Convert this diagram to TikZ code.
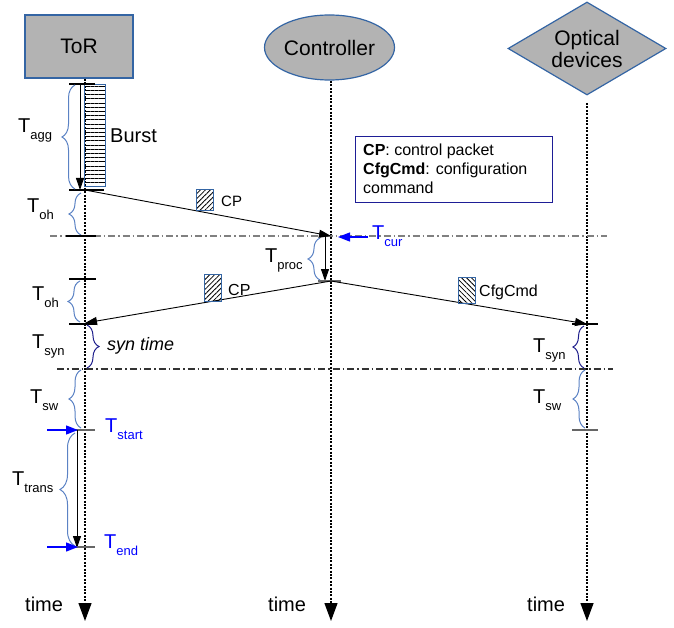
\documentclass[tikz,border=0pt]{standalone}
\usepackage{fontspec}
\setmainfont{Liberation Sans}
\usetikzlibrary{arrows.meta,shapes.geometric,decorations.pathreplacing,patterns.meta}

\definecolor{boxfill}{RGB}{179,179,179}
\definecolor{boxline}{RGB}{52,101,164}
\definecolor{bracecol}{RGB}{91,130,196}
\definecolor{darkbrace}{RGB}{30,30,140}
\definecolor{legline}{RGB}{30,30,150}
\definecolor{tblue}{RGB}{0,0,255}
\definecolor{tickgray}{gray}{0.4}

% T with a lowered subscript, as used for all the interval labels
\newcommand\Tlab[1]{T\raisebox{-7pt}{\fontsize{13}{13}\selectfont #1}}

\begin{document}
\begin{tikzpicture}[x=1pt,y=-1pt,
  actor/.style={draw=boxline, fill=boxfill, line width=1.2pt, inner sep=0pt,
                font=\fontsize{21}{25}\selectfont, align=center},
  lifeline/.style={line width=1.3pt, dash pattern=on 2pt off 1.4pt,
                   -{Triangle[length=18pt,width=13pt]}},
  msg/.style={line width=0.9pt, -{Triangle[length=12pt,width=8pt]}},
  tickline/.style={line width=1.1pt},
  graytick/.style={line width=1.1pt, draw=tickgray},
  bracel/.style={decorate, decoration={brace,amplitude=#1}, draw=bracecol, line width=1pt},
  braced/.style={decorate, decoration={brace,amplitude=#1}, draw=darkbrace, line width=1pt},
  marker/.style={draw=tblue, line width=1.3pt, -{Triangle[length=12pt,width=9pt]}},
  syncline/.style={line width=1.1pt, dash pattern=on 7pt off 3pt on 1.5pt off 3pt},
  pkt/.style={draw=boxline, line width=0.8pt, minimum width=17pt, minimum height=#1,
              inner sep=0pt, anchor=north west},
  lbl/.style={anchor=base west, inner sep=0pt, font=\fontsize{20}{24}\selectfont},
  msglbl/.style={anchor=base west, inner sep=0pt, font=\fontsize{16}{19}\selectfont}]

\useasboundingbox (0,0) rectangle (674,628);

% participants
\node[actor, rectangle, minimum width=108pt, minimum height=63pt] (tor) at (79,46.5) {ToR};
\node[actor, ellipse, minimum width=130pt, minimum height=65pt] (ctrl) at (329.5,47.5) {Controller};
\node[actor, diamond, aspect=1.7, minimum width=158pt, minimum height=93pt] (opt) at (587,48.5) {Optical\\[-3pt]devices};

% lifelines
\coordinate (torTop) at (85,79);   \coordinate (torBot) at (85,621);
\coordinate (ctrlTop) at (331,81); \coordinate (ctrlBot) at (331,621);
\coordinate (optTop) at (587,103); \coordinate (optBot) at (587,621);
\draw[lifeline] (torTop) -- (torBot);
\draw[lifeline] (ctrlTop) -- (ctrlBot);
\draw[lifeline] (optTop) -- (optBot);

% synchronisation levels
\coordinate (curL) at (50,236);  \coordinate (curR) at (607,236);
\coordinate (swL) at (57,369);   \coordinate (swR) at (613,369);
\draw[syncline, draw=gray] (curL) -- (curR);
\draw[syncline, draw=black!80] (swL) -- (swR);

% burst aggregation
\node[draw=boxline, line width=0.8pt, anchor=north west, minimum width=21pt, minimum height=102pt,
      inner sep=0pt, pattern={Lines[angle=0,distance=4.2pt,line width=0.8pt]}] (burst) at (84,84) {};
\node[lbl] (burstlbl) at (110,143) {Burst};
\coordinate (aggTop) at (80,84); \coordinate (aggBot) at (80,190);
\draw[msg] (aggTop) -- (aggBot);
\coordinate (aggT1) at (69,84);  \coordinate (aggT2) at (95,84);
\coordinate (aggB1) at (69,190); \coordinate (aggB2) at (104,190);
\draw[tickline] (aggT1) -- (aggT2);
\draw[tickline] (aggB1) -- (aggB2);
\coordinate (agbA) at (75,189); \coordinate (agbB) at (75,85);
\draw[bracel=13pt] (agbA) -- (agbB);
\node[lbl] (tagg) at (18,133) {\Tlab{agg}};

% control packet to the controller
\coordinate (cpFrom) at (85,190); \coordinate (cpTo) at (331,236);
\draw[msg] (cpFrom) -- (cpTo);
\node[pkt=21pt, pattern={Lines[angle=45,distance=3.5pt,line width=0.8pt]}] (cp1) at (196,189) {};
\node[msglbl, font=\fontsize{15}{18}\selectfont] (cp1lbl) at (221,207) {CP};

\coordinate (oh1A) at (81,235); \coordinate (oh1B) at (81,193);
\draw[bracel=12pt] (oh1A) -- (oh1B);
\node[lbl] (toh1) at (27,213) {\Tlab{oh}};
\coordinate (curT1) at (66,236); \coordinate (curT2) at (96,236);
\draw[tickline] (curT1) -- (curT2);

% current time marker
\coordinate (tcurA) at (368,237); \coordinate (tcurB) at (338,237);
\draw[marker] (tcurA) -- (tcurB);
\node[lbl, text=tblue] (tcur) at (372,240) {\Tlab{cur}};

% legend
\node[draw=legline, line width=1pt, anchor=north west, minimum width=197pt, minimum height=66pt,
      inner sep=0pt] (legend) at (355,136) {};
\node[anchor=north west, align=left, inner sep=0pt, font=\fontsize{16}{19}\selectfont] (legtxt) at (363,144)
  {\textbf{CP}: control packet\\\textbf{CfgCmd}: configuration\\command};

% processing at the controller
\coordinate (procTop) at (325,237); \coordinate (procBot) at (325,281);
\draw[msg] (procTop) -- (procBot);
\coordinate (procT1) at (318,281); \coordinate (procT2) at (341,281);
\draw[graytick] (procT1) -- (procT2);
\coordinate (prA) at (320,280); \coordinate (prB) at (320,238);
\draw[bracel=12pt] (prA) -- (prB);
\node[lbl] (tproc) at (265,262) {\Tlab{proc}};

% replies from the controller
\coordinate (repFrom) at (331,281);
\coordinate (cpBack) at (85,323);
\coordinate (cfgTo) at (587,324);
\draw[msg] (repFrom) -- (cpBack);
\draw[msg] (repFrom) -- (cfgTo);
\node[pkt=27pt, pattern={Lines[angle=45,distance=3.5pt,line width=0.8pt]}] (cp2) at (204,274) {};
\node[msglbl] (cp2lbl) at (228,295) {CP};
\node[pkt=26pt, pattern={Lines[angle=-45,distance=3.5pt,line width=0.8pt]}] (cfg) at (458,277) {};
\node[msglbl] (cfglbl) at (479,296) {CfgCmd};

% ToR side: overhead, sync, switching, transmission
\coordinate (oh2T1) at (69,279); \coordinate (oh2T2) at (96,279);
\coordinate (oh2B1) at (69,324); \coordinate (oh2B2) at (96,324);
\draw[tickline] (oh2T1) -- (oh2T2);
\draw[tickline] (oh2B1) -- (oh2B2);
\coordinate (oh2A) at (80,322); \coordinate (oh2B) at (80,281);
\draw[bracel=12pt] (oh2A) -- (oh2B);
\node[lbl] (toh2) at (32,300) {\Tlab{oh}};

\coordinate (synA) at (87,325); \coordinate (synB) at (87,368);
\draw[braced=12pt] (synA) -- (synB);
\node[lbl, font=\fontsize{18}{22}\selectfont\itshape] (syntime) at (107,350) {syn time};
\node[lbl] (tsyn) at (32,348) {\Tlab{syn}};

\coordinate (swA) at (81,428); \coordinate (swB) at (81,370);
\draw[bracel=12pt] (swA) -- (swB);
\node[lbl] (tsw) at (30,403) {\Tlab{sw}};

\coordinate (stT1) at (70,430); \coordinate (stT2) at (95,430);
\draw[graytick] (stT1) -- (stT2);
\coordinate (stA) at (47,430); \coordinate (stB) at (78,430);
\draw[marker] (stA) -- (stB);
\node[lbl, text=tblue] (tstart) at (105,432) {\Tlab{start}};

\coordinate (trTop) at (77,430); \coordinate (trBot) at (77,548);
\draw[msg] (trTop) -- (trBot);
\coordinate (trA) at (75,546); \coordinate (trB) at (75,433);
\draw[bracel=15pt] (trA) -- (trB);
\node[lbl] (ttrans) at (12,485) {\Tlab{trans}};

\coordinate (enT1) at (70,547); \coordinate (enT2) at (95,547);
\draw[graytick] (enT1) -- (enT2);
\coordinate (enA) at (47,547); \coordinate (enB) at (78,547);
\draw[marker] (enA) -- (enB);
\node[lbl, text=tblue] (tend) at (104,548) {\Tlab{end}};

% optical devices side
\coordinate (oSynT1) at (572,324); \coordinate (oSynT2) at (598,324);
\draw[tickline] (oSynT1) -- (oSynT2);
\coordinate (osA) at (584,368); \coordinate (osB) at (584,326);
\draw[braced=11pt] (osA) -- (osB);
\node[lbl] (tsynR) at (533,352) {\Tlab{syn}};

\coordinate (owA) at (585,428); \coordinate (owB) at (585,370);
\draw[bracel=12pt] (owA) -- (owB);
\node[lbl] (tswR) at (533,403) {\Tlab{sw}};
\coordinate (oSwT1) at (572,430); \coordinate (oSwT2) at (598,430);
\draw[graytick] (oSwT1) -- (oSwT2);

% time axes
\node[lbl] (time1) at (25,611) {time};
\node[lbl] (time2) at (268,611) {time};
\node[lbl] (time3) at (527,611) {time};

\end{tikzpicture}
\end{document}
